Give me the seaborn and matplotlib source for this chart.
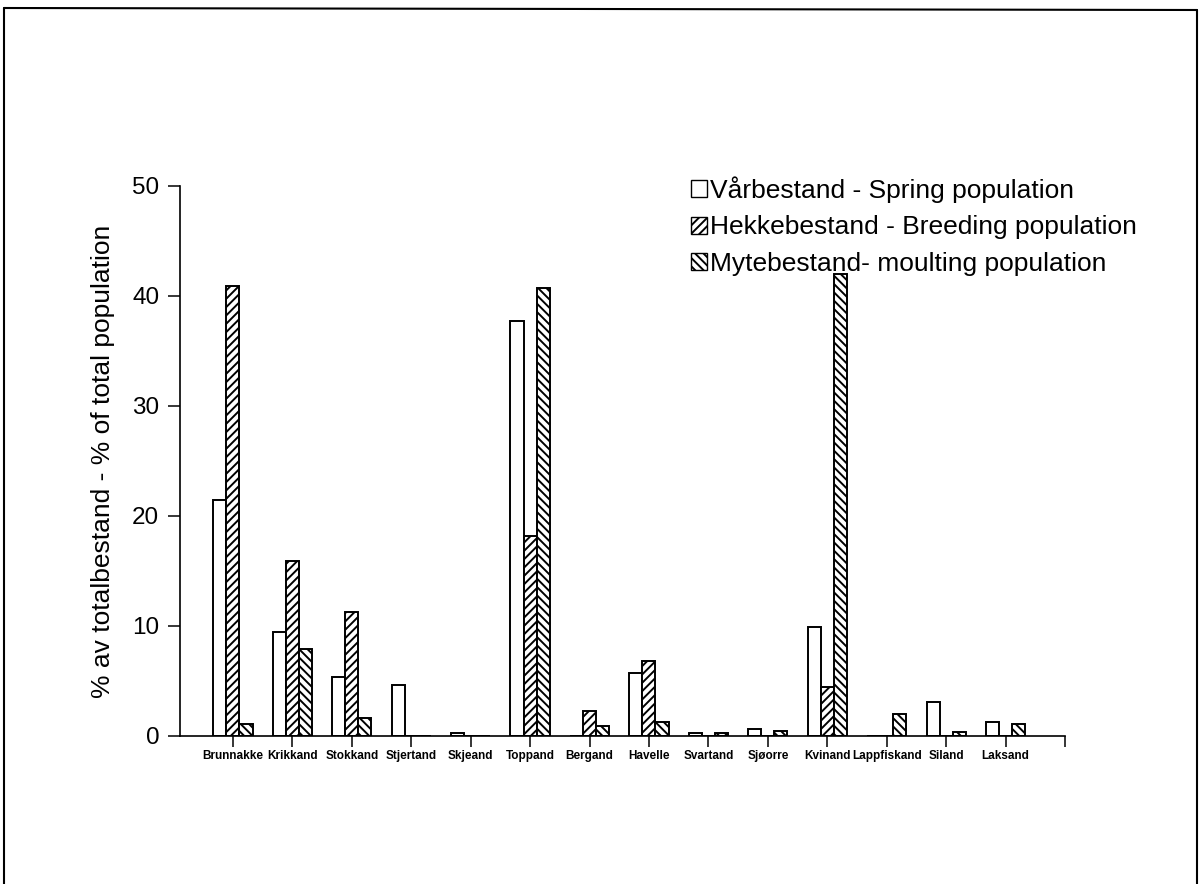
import numpy as np
import pandas as pd
import seaborn as sns
import matplotlib.pyplot as plt
from matplotlib.patches import Patch
from matplotlib.lines import Line2D

# Species (Norwegian duck names)
arter = ["Brunnakke", "Krikkand", "Stokkand", "Stjertand", "Skjeand", "Toppand",
         "Bergand", "Havelle", "Svartand", "Sjøorre", "Kvinand", "Lappfiskand",
         "Siland", "Laksand"]

# Share of total population (%) per season
varbestand = [21.5, 9.5, 5.4, 4.6, 0.25, 37.7, 0.0, 5.7, 0.25, 0.6, 9.9, 0.0, 3.1, 1.3]
hekkebestand = [40.9, 15.9, 11.3, 0.0, 0.0, 18.2, 2.3, 6.8, 0.0, 0.0, 4.5, 0.0, 0.0, 0.0]
mytebestand = [1.1, 7.9, 1.6, 0.0, 0.0, 40.7, 0.9, 1.3, 0.25, 0.45, 42.0, 2.0, 0.4, 1.1]

serier = ["Vårbestand - Spring population",
          "Hekkebestand - Breeding population",
          "Mytebestand- moulting population"]
hatches = ["", "////", "\\\\\\\\"]
yticks = [0, 10, 20, 30, 40, 50]

df = pd.DataFrame({
    "art": arter * 3,
    "pct": varbestand + hekkebestand + mytebestand,
    "serie": [serier[0]] * len(arter) + [serier[1]] * len(arter) + [serier[2]] * len(arter),
})

sns.set_style("ticks")
plt.rcParams["font.family"] = ["Liberation Sans", "DejaVu Sans"]
plt.rcParams.update({
    "text.color": "black",
    "axes.labelcolor": "black",
    "xtick.color": "black",
    "ytick.color": "black",
    "hatch.linewidth": 1.4,
    "hatch.color": "black",
})

W, H = 1203, 884
fig = plt.figure(figsize=(W / 100, H / 100), dpi=100)
ax = fig.add_axes([180 / W, 1 - 736 / H, (1065 - 180) / W, (736 - 186) / H])

sns.barplot(data=df, x="art", y="pct", hue="serie", order=arter, hue_order=serier,
            palette=["white"] * 3, saturation=1, width=0.66, gap=0, errorbar=None,
            edgecolor="black", linewidth=1.4, legend=False, ax=ax)

for cont, h in zip(ax.containers, hatches):
    for bar in cont:
        bar.set_hatch(h)
        bar.set_facecolor("white")
        bar.set_edgecolor("black")

ax.set_ylim(0, 50)
ax.set_xlim(-0.89, 14.0)
ax.set_yticks(yticks)
ax.set_yticklabels([str(v) for v in yticks], fontsize=17.5)
ax.set_xticks(range(len(arter) + 1))
ax.set_xticklabels(arter + [""], fontsize=8.5, fontweight="bold")
ax.tick_params(axis="y", length=9, width=1.1, pad=6)
ax.tick_params(axis="x", length=8, width=1.1, pad=2)
ax.set_xlabel("")
ax.set_ylabel("% av totalbestand - % of total population", fontsize=19, labelpad=12)

for side in ["top", "right"]:
    ax.spines[side].set_visible(False)
for side in ["left", "bottom"]:
    ax.spines[side].set_linewidth(1.2)
    ax.spines[side].set_color("black")

handles = [Patch(facecolor="white", edgecolor="black", hatch=h, linewidth=1.0) for h in hatches]
fig.legend(handles, serier, loc="upper left", bbox_to_anchor=(691 / W, 1 - 176 / H),
           frameon=False, fontsize=19, handlelength=0.62, handleheight=0.62,
           handletextpad=0.1, labelspacing=0.48, borderpad=0, borderaxespad=0)

# Page frame around the figure
frame_kw = dict(color="black", linewidth=1.5, transform=fig.transFigure)
fig.add_artist(Line2D([4 / W, 4 / W], [0, 1 - 8 / H], **frame_kw))
fig.add_artist(Line2D([4 / W, 1197 / W], [1 - 8 / H, 1 - 10 / H], **frame_kw))
fig.add_artist(Line2D([1197 / W, 1197 / W], [1 - 10 / H, 0], **frame_kw))

fig.savefig("out.png", dpi=100)
